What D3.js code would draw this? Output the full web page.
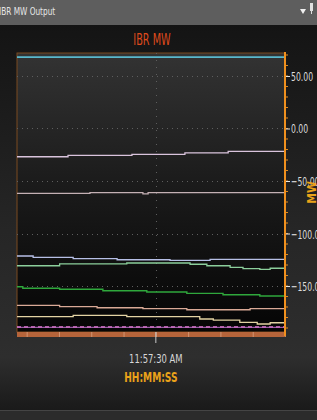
<!DOCTYPE html>
<html>
<head>
<meta charset="utf-8">
<script src="https://d3js.org/d3.v7.min.js"></script>
<style>
body { margin: 0; background: #222; }
text { font-family: "Liberation Sans Narrow", "DejaVu Sans Condensed", sans-serif; }
</style>
</head>
<body>
<div id="chart"></div>
<script>
// time in seconds after 11:57:00, values in MW (step series)
var timeDomain = [8.5, 50];
var valueDomain = [-193.8, 71.9];
var yTicks = [50, 0, -50, -100, -150];
var xTicks = [10, 15, 20, 25, 30, 35, 40, 45, 50];
var xLabelTick = 30;

var cyanT = [8.5], cyanV = [68];
var pinkT = [8.5, 16.4, 26.3, 34.5, 41.2], pinkV = [-26.9, -25.5, -24.6, -23.3, -21.7];
var grayT = [8.5, 19.8, 28.0, 28.8], grayV = [-61.7, -61.1, -62.3, -61.1];
var blueT = [8.5, 11.0, 17.2, 24.0, 32.2, 38.4], blueV = [-121.4, -122.7, -124.0, -125.0, -125.5, -124.6];
var lgreenT = [8.5, 15.1, 25.5, 35.3, 37.9, 41.5, 43.5, 46.1, 47.7], lgreenV = [-130.7, -129.0, -128.1, -129.3, -130.7, -132.2, -133.5, -134.1, -133.1];
var dgreenT = [8.5, 9.4, 15.1, 21.8, 28.6, 34.8, 40.4, 46.1], dgreenV = [-150.7, -152.2, -153.1, -154.5, -155.7, -157.0, -158.3, -159.5];
var tanT = [8.5, 15.1, 20.9, 28.0, 34.8, 44.6], tanV = [-168.4, -169.7, -170.7, -171.6, -172.6, -171.6];
var yellowT = [8.5, 17.2, 25.5, 36.8, 38.9, 43.0, 45.7, 47.7], yellowV = [-179.2, -177.9, -179.2, -181.4, -182.4, -184.6, -186.2, -185.0];
var purpleT = [8.5], purpleV = [-189.4];
var magentaT = [8.5], magentaV = [-188.9];

var series = [
  {t: cyanT, v: cyanV, color: "#5ab8cc", w: 1.6},
  {t: pinkT, v: pinkV, color: "#d9c3dc", w: 1.3},
  {t: grayT, v: grayV, color: "#c4b0b4", w: 1.3},
  {t: blueT, v: blueV, color: "#b6bfe6", w: 1.3},
  {t: lgreenT, v: lgreenV, color: "#8ccf9c", w: 1.3},
  {t: dgreenT, v: dgreenV, color: "#2fa83c", w: 1.4},
  {t: tanT, v: tanV, color: "#d9a996", w: 1.3},
  {t: yellowT, v: yellowV, color: "#e3d3a3", w: 1.3},
  {t: purpleT, v: purpleV, color: "#9a5aa6", w: 1.3},
  {t: magentaT, v: magentaV, color: "#e07ad0", w: 1.3, dash: "4,3"}
];

var W = 317, H = 420;
var pLeft = 17, pRight = 285, pTop = 53, pBottom = 332;

var svg = d3.select("#chart").append("svg")
  .attr("width", W).attr("height", H);

var defs = svg.append("defs");
var bg = defs.append("linearGradient").attr("id", "bg").attr("x1", 0).attr("y1", 0).attr("x2", 0).attr("y2", 1);
bg.append("stop").attr("offset", "0%").attr("stop-color", "#121212");
bg.append("stop").attr("offset", "55%").attr("stop-color", "#262626");
bg.append("stop").attr("offset", "85%").attr("stop-color", "#2e2e2e");
bg.append("stop").attr("offset", "100%").attr("stop-color", "#161616");
var pg = defs.append("linearGradient").attr("id", "pg").attr("x1", 0).attr("y1", 0).attr("x2", 0).attr("y2", 1);
pg.append("stop").attr("offset", "0%").attr("stop-color", "#333333");
pg.append("stop").attr("offset", "45%").attr("stop-color", "#1c1c1c");
pg.append("stop").attr("offset", "100%").attr("stop-color", "#050505");

svg.append("rect").attr("width", W).attr("height", H).attr("fill", "url(#bg)");

// narrow text helper: squeeze glyphs horizontally like the source font
function narrow(g, px, py, sx) {
  return g.append("g").attr("transform", "translate(" + px + "," + py + ") scale(" + (sx || 0.82) + ",1)");
}

// title bar
svg.append("rect").attr("width", W).attr("height", 25).attr("fill", "#5e5e5e");
narrow(svg, -1, 15).append("text").attr("fill", "#e6e6e6")
  .attr("font-size", 10).text("IBR MW Output");
svg.append("path").attr("d", "M300,9 L306,9 L303,14 Z").attr("fill", "#f0f0f0");
svg.append("rect").attr("x", 310).attr("y", 3).attr("width", 3).attr("height", 8).attr("fill", "#e0e0e0");
svg.append("rect").attr("x", 311).attr("y", 11).attr("width", 1).attr("height", 3).attr("fill", "#e0e0e0");

// bottom strip
svg.append("rect").attr("x", 0).attr("y", 410).attr("width", W).attr("height", 10).attr("fill", "#2b2b2b");
svg.append("line").attr("x1", 0).attr("x2", W).attr("y1", 410.5).attr("y2", 410.5).attr("stroke", "#444");

var x = d3.scaleLinear().domain(timeDomain).range([pLeft, pRight]);
var y = d3.scaleLinear().domain(valueDomain).range([pBottom, pTop]);

// plot area
svg.append("rect").attr("x", pLeft).attr("y", pTop).attr("width", pRight - pLeft).attr("height", pBottom - pTop)
  .attr("fill", "url(#pg)").attr("stroke", "#7a4a20").attr("stroke-width", 1);

// grid
svg.append("g").selectAll("line").data(yTicks).join("line")
  .attr("x1", pLeft).attr("x2", pRight)
  .attr("y1", function(d) { return Math.round(y(d)) + 0.5; })
  .attr("y2", function(d) { return Math.round(y(d)) + 0.5; })
  .attr("stroke", "#5e5e5e").attr("stroke-dasharray", "1,4");
svg.append("line")
  .attr("x1", Math.round(x(xLabelTick)) + 0.5).attr("x2", Math.round(x(xLabelTick)) + 0.5)
  .attr("y1", pTop).attr("y2", pBottom)
  .attr("stroke", "#5e5e5e").attr("stroke-dasharray", "1,6");

// series
var line = d3.line().curve(d3.curveStepAfter)
  .x(function(d) { return x(d[0]); })
  .y(function(d) { return y(d[1]); });
series.forEach(function(s) {
  var pts = s.t.map(function(t, i) { return [t, s.v[i]]; });
  pts.push([timeDomain[1], s.v[s.v.length - 1]]);
  svg.append("path").datum(pts)
    .attr("d", line).attr("fill", "none")
    .attr("stroke", s.color).attr("stroke-width", s.w)
    .attr("stroke-dasharray", s.dash || null);
});

// x axis band
svg.append("rect").attr("x", pLeft).attr("y", pBottom).attr("width", pRight - pLeft).attr("height", 5)
  .attr("fill", "#b5643a");
var xAxis = svg.append("g").attr("transform", "translate(0," + pBottom + ")")
  .call(d3.axisBottom(x).tickValues(xTicks).tickSize(5).tickFormat(""));
xAxis.select(".domain").remove();
xAxis.selectAll(".tick line").attr("stroke", "#d8a080").attr("stroke-opacity", 0.8);
svg.append("line")
  .attr("x1", x(xLabelTick)).attr("x2", x(xLabelTick))
  .attr("y1", pBottom).attr("y2", pBottom + 11)
  .attr("stroke", "#c8c8c8");
narrow(svg, x(xLabelTick), 363, 0.75).append("text")
  .attr("text-anchor", "middle").attr("fill", "#d8d8d8").attr("font-size", 12.5)
  .text("11:57:30 AM");
narrow(svg, x(xLabelTick) - 5, 382, 0.75).append("text")
  .attr("text-anchor", "middle").attr("fill", "#eaa21a").attr("font-size", 13.5)
  .attr("font-weight", "bold").text("HH:MM:SS");

// y axis on the right
var minor = d3.range(-190, 71, 10);
svg.append("g").selectAll("line").data(minor).join("line")
  .attr("x1", pRight).attr("x2", pRight + 3)
  .attr("y1", function(d) { return y(d); }).attr("y2", function(d) { return y(d); })
  .attr("stroke", "#e08a1e");
var yAxis = svg.append("g").attr("transform", "translate(" + pRight + ",0)")
  .call(d3.axisRight(y).tickValues(yTicks).tickSize(5).tickFormat(""));
yAxis.select(".domain").remove();
yAxis.selectAll(".tick line").attr("stroke", "#e8e8e8");
var fmt = d3.format(".2f");
yTicks.forEach(function(d) {
  narrow(svg, pRight + 6, y(d) + 5, 0.66).append("text")
    .attr("fill", "#dcdcdc").attr("font-size", 13).text(fmt(d));
});
svg.append("line").attr("x1", pRight).attr("x2", pRight).attr("y1", pTop - 1).attr("y2", pBottom + 4)
  .attr("stroke", "#f0901e").attr("stroke-width", 2);

svg.append("text")
  .attr("transform", "translate(316," + ((pTop + pBottom) / 2) + ") rotate(-90)")
  .attr("text-anchor", "middle").attr("fill", "#eaa21a").attr("font-size", 12)
  .attr("font-weight", "bold").text("MW");

// chart title
narrow(svg, 152, 45, 0.72).append("text")
  .attr("text-anchor", "middle").attr("fill", "#de4a1c").attr("font-size", 15)
  .text("IBR MW");
</script>
</body>
</html>
